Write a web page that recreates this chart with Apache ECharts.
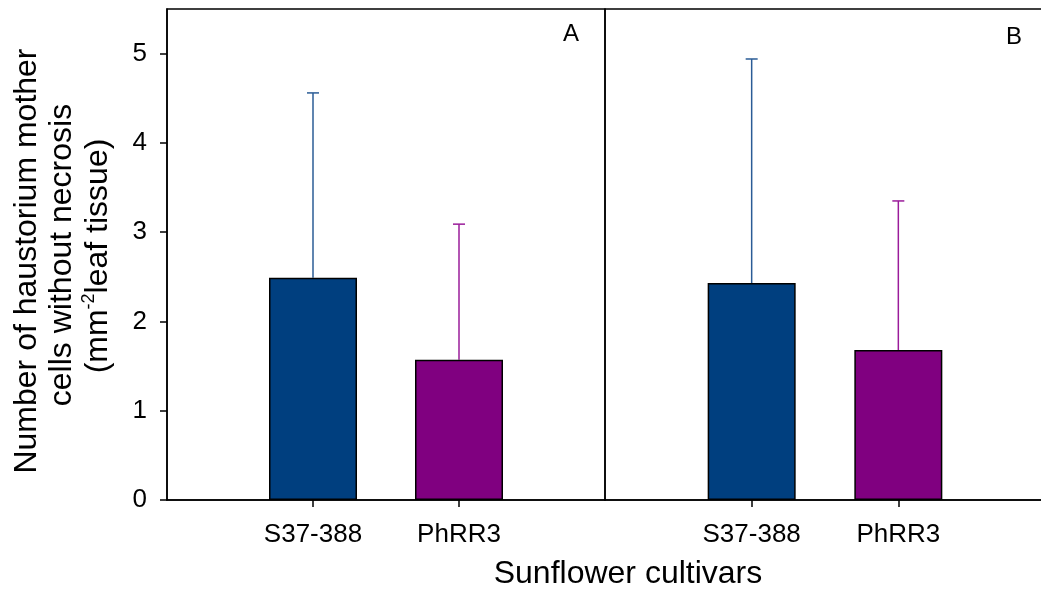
<!DOCTYPE html>
<html>
<head>
<meta charset="utf-8">
<title>Haustorium mother cells</title>
<script src="https://cdn.jsdelivr.net/npm/echarts@6/dist/echarts.min.js"></script>
<style>
  html, body { margin: 0; padding: 0; background: #fff; }
  #chart { width: 1041px; height: 592px; }
</style>
</head>
<body>
<div id="chart"></div>
<script>
// categories (the empty ends keep the bars at 1/3 and 2/3 of each panel)
const cultivars = ['', 'S37-388', 'PhRR3', '']
const yTicks = [0, 1, 2, 3, 4, 5]

// panel A
const meanA = [2.49, 1.57]
const sdA = [2.07, 1.52]
// panel B
const meanB = [2.43, 1.68]
const sdB = [2.51, 1.67]

const barColors = ['#003f7f', '#800080']
const errColors = ['#2b5c96', '#9a1c9a']
const FONT = '"Liberation Sans", Arial, sans-serif'

function barData(means) {
  return cultivars.map((c, i) => {
    if (i === 0 || i === cultivars.length - 1) return '-'
    return { value: means[i - 1], itemStyle: { color: barColors[i - 1] } }
  })
}

function errData(means, sds) {
  return means.map((m, i) => [i + 1, m, sds[i]])
}

function renderErr(params, api) {
  const x = api.value(0)
  const top = api.coord([x, api.value(1)])
  const up = api.coord([x, api.value(1) + api.value(2)])
  const color = errColors[params.dataIndex]
  const style = { stroke: color, lineWidth: 1.5 }
  return {
    type: 'group',
    children: [
      { type: 'line', shape: { x1: top[0], y1: top[1], x2: up[0], y2: up[1] }, style },
      { type: 'line', shape: { x1: up[0] - 6, y1: up[1], x2: up[0] + 6, y2: up[1] }, style }
    ]
  }
}

function xAxis(gridIndex) {
  return {
    type: 'category',
    gridIndex,
    data: cultivars,
    boundaryGap: false,
    axisLine: { lineStyle: { color: '#000', width: 1.5 } },
    axisTick: {
      length: 7,
      interval: (i) => i === 1 || i === 2,
      lineStyle: { color: '#000', width: 1.5 }
    },
    axisLabel: { interval: 0, fontSize: 26, color: '#000', fontFamily: FONT, margin: 22 },
    splitLine: { show: false }
  }
}

const chart = echarts.init(document.getElementById('chart'), null, { renderer: 'canvas' })

const option = {
  animation: false,
  backgroundColor: '#fff',
  grid: [
    { left: 167, top: 9, width: 438, height: 491, outerBoundsMode: 'none', show: true, borderColor: '#000', borderWidth: 1.5, backgroundColor: 'transparent' },
    { left: 605, top: 9, width: 440, height: 491, outerBoundsMode: 'none', show: true, borderColor: '#000', borderWidth: 1.5, backgroundColor: 'transparent' }
  ],
  xAxis: [xAxis(0), xAxis(1)],
  yAxis: [
    {
      type: 'value',
      gridIndex: 0,
      min: 0,
      max: 5.5,
      axisLine: { show: true, lineStyle: { color: '#000', width: 1.5 } },
      axisTick: { show: true, length: 7, customValues: yTicks, lineStyle: { color: '#000', width: 1.5 } },
      axisLabel: { customValues: yTicks, fontSize: 26, color: '#000', fontFamily: FONT, margin: 20 },
      splitLine: { show: false }
    },
    {
      type: 'value',
      gridIndex: 1,
      min: 0,
      max: 5.5,
      axisLine: { show: false },
      axisTick: { show: false },
      axisLabel: { show: false },
      splitLine: { show: false }
    }
  ],
  series: [
    {
      type: 'bar',
      xAxisIndex: 0,
      yAxisIndex: 0,
      barWidth: 88,
      data: barData(meanA),
      itemStyle: { borderColor: '#000', borderWidth: 1.5 }
    },
    {
      type: 'bar',
      xAxisIndex: 1,
      yAxisIndex: 1,
      barWidth: 88,
      data: barData(meanB),
      itemStyle: { borderColor: '#000', borderWidth: 1.5 }
    },
    {
      type: 'custom',
      xAxisIndex: 0,
      yAxisIndex: 0,
      renderItem: renderErr,
      data: errData(meanA, sdA),
      z: 1
    },
    {
      type: 'custom',
      xAxisIndex: 1,
      yAxisIndex: 1,
      renderItem: renderErr,
      data: errData(meanB, sdB),
      z: 1
    }
  ],
  graphic: [
    { type: 'text', x: 571, y: 34, style: { text: 'A', fontSize: 24, fontFamily: FONT, fill: '#000', align: 'center', verticalAlign: 'middle' } },
    { type: 'text', x: 1014, y: 37, style: { text: 'B', fontSize: 24, fontFamily: FONT, fill: '#000', align: 'center', verticalAlign: 'middle' } },
    { type: 'text', x: 628, y: 574, style: { text: 'Sunflower cultivars', fontSize: 32, fontFamily: FONT, fill: '#000', align: 'center', verticalAlign: 'middle' } },
    { type: 'text', x: 27, y: 261, rotation: Math.PI / 2, style: { text: 'Number of haustorium mother', fontSize: 32, fontFamily: FONT, fill: '#000', align: 'center', verticalAlign: 'middle' } },
    { type: 'text', x: 62, y: 255, rotation: Math.PI / 2, style: { text: 'cells without necrosis', fontSize: 32, fontFamily: FONT, fill: '#000', align: 'center', verticalAlign: 'middle' } },
    {
      type: 'text', x: 98, y: 256, rotation: Math.PI / 2,
      style: {
        text: '{n|(mm}{sup|-2}{n|leaf tissue)}',
        fontFamily: FONT, fill: '#000', align: 'center', verticalAlign: 'middle',
        rich: {
          n: { fontSize: 32, fontFamily: FONT, lineHeight: 36 },
          sup: { fontSize: 18, fontFamily: FONT, verticalAlign: 'top', lineHeight: 36 }
        }
      }
    }
  ]
}

chart.setOption(option)
window.addEventListener('resize', () => chart.resize())
</script>
</body>
</html>
